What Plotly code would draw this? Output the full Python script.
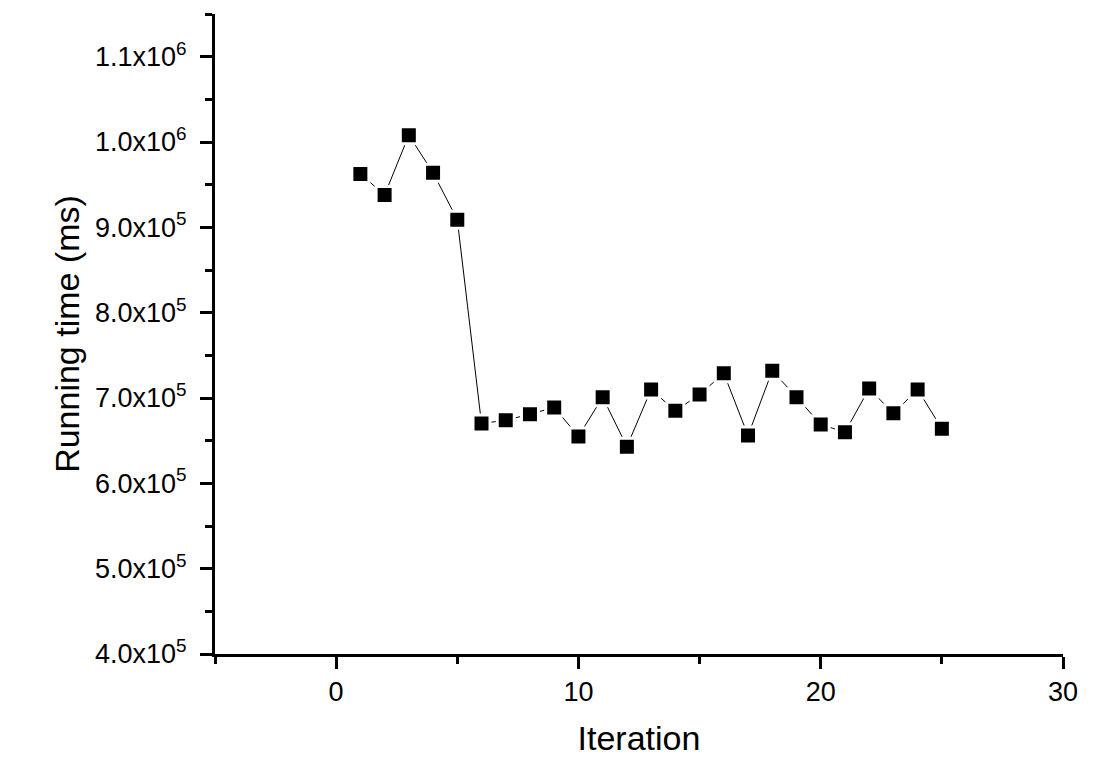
import plotly.graph_objects as go

iterations = list(range(1, 26))
running_time = [962600, 938000, 1008000, 964000, 909000, 670000, 674000, 681000, 689000, 655000,
                701000, 643000, 710000, 685000, 704000, 729000, 656000, 732000, 701000, 669000,
                660000, 711000, 682000, 710000, 664000]

y_tickvals = [400000, 500000, 600000, 700000, 800000, 900000, 1000000, 1100000]
y_ticktext = ["4.0x10<sup>5</sup>", "5.0x10<sup>5</sup>", "6.0x10<sup>5</sup>", "7.0x10<sup>5</sup>",
              "8.0x10<sup>5</sup>", "9.0x10<sup>5</sup>", "1.0x10<sup>6</sup>", "1.1x10<sup>6</sup>"]
y_minor = [450000, 550000, 650000, 750000, 850000, 950000, 1050000, 1150000]
x_tickvals = [0, 10, 20, 30]
x_minor = [-5, 5, 15, 25]

fig = go.Figure()
fig.add_trace(go.Scatter(
    x=iterations, y=running_time, mode="lines+markers",
    line=dict(color="black", width=1),
    marker=dict(symbol="square", size=17, color="black", line=dict(color="white", width=3)),
    showlegend=False,
))

fig.update_layout(
    width=1094, height=763,
    margin=dict(l=215, r=31, t=14, b=109),
    paper_bgcolor="white", plot_bgcolor="white",
    font=dict(family="Liberation Sans, Arial, sans-serif", color="black", size=27),
)
fig.update_xaxes(
    range=[-5, 30], tickmode="array", tickvals=x_tickvals, ticktext=[str(v) for v in x_tickvals],
    showline=True, linecolor="black", linewidth=3, mirror=False,
    ticks="outside", ticklen=12, tickwidth=3, tickcolor="black",
    showgrid=False, zeroline=False,
    minor=dict(tickmode="array", tickvals=x_minor, ticks="outside", ticklen=7, tickwidth=3, tickcolor="black", showgrid=False),
    title=dict(text="Iteration", font=dict(size=34), standoff=20),
    tickfont=dict(size=27),
)
fig.update_yaxes(
    range=[400000, 1150000], tickmode="array", tickvals=y_tickvals, ticktext=y_ticktext,
    showline=True, linecolor="black", linewidth=3, mirror=False,
    ticks="outside", ticklen=12, tickwidth=3, tickcolor="black",
    showgrid=False, zeroline=False,
    minor=dict(tickmode="array", tickvals=y_minor, ticks="outside", ticklen=7, tickwidth=3, tickcolor="black", showgrid=False),
    ticklabelstandoff=8,
    title=dict(text="Running time (ms)", font=dict(size=34), standoff=6),
    tickfont=dict(size=27),
)

fig.write_html("out.html")
